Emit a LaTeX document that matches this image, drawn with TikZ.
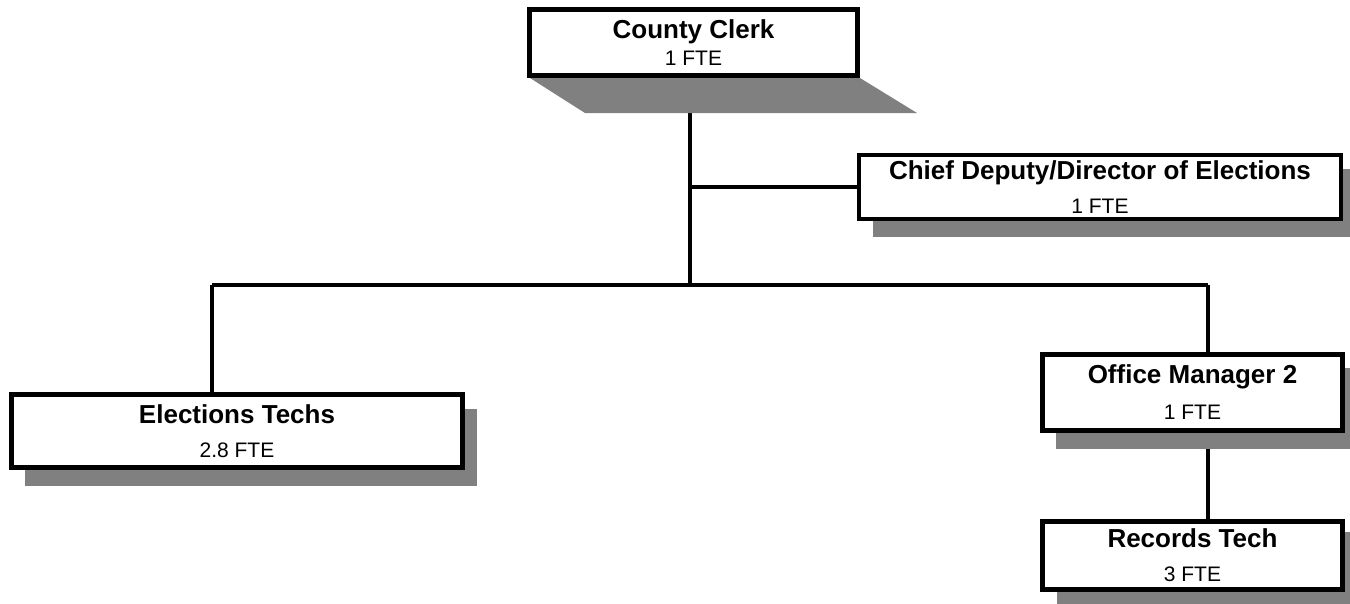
\documentclass[tikz,border=0pt]{standalone}
\usepackage{fontspec}
\setmainfont{Liberation Sans}
\usetikzlibrary{backgrounds}

\newcommand{\headline}[1]{{\fontsize{26}{34}\selectfont\bfseries #1}}

\tikzset{
  post/.style={draw, fill=white, line width=5pt, align=center, inner sep=0pt,
    font=\fontsize{21}{34}\selectfont},
  link/.style={line width=3.5pt},
  dropfill/.style={fill=black!50},
}

\begin{document}
\begin{tikzpicture}[x=1pt,y=-1pt]
  \useasboundingbox (0,0) rectangle (1350,603);

  % boxes
  \node[post, minimum width=328, minimum height=66] (clerk) at (693.5,42.5)
    {\headline{County Clerk}\\[-7pt] 1 FTE};
  \node[post, line width=4pt, minimum width=482, minimum height=64] (chief) at (1100,187)
    {\headline{Chief Deputy/Director of Elections}\\ 1 FTE};
  \node[post, minimum width=451, minimum height=73] (techs) at (237,431)
    {\headline{Elections Techs}\\ 2.8 FTE};
  \node[post, minimum width=300, minimum height=76] (manager) at (1192.5,392.5)
    {\headline{Office Manager 2}\\[2pt] 1 FTE};
  \node[post, minimum width=300, minimum height=68] (records) at (1192.5,555.5)
    {\headline{Records Tech}\\ 3 FTE};

  \begin{scope}[on background layer]
    % connectors
    \coordinate (hub) at (690,285);
    \coordinate (techs-drop) at (212,285);
    \coordinate (office-drop) at (1208,285);
    \draw[link] (clerk.south -| hub) -- (hub);
    \draw[link] (chief.west -| hub) -- (chief.west);
    \draw[link] (techs-drop) -- (office-drop);
    \draw[link] (techs-drop) -- (techs-drop |- techs.north);
    \draw[link] (office-drop) -- (office-drop |- manager.north);
    \draw[link] (manager.south -| office-drop) -- (records.north -| office-drop);

    % shadows
    \fill[dropfill] ([shift={(3,0)}]clerk.south west) -- (clerk.south east)
      -- ([shift={(57,35)}]clerk.south east) -- ([shift={(58,35)}]clerk.south west) -- cycle;
    \fill[dropfill] ([shift={(16,16)}]chief.south west) rectangle ([shift={(16,16)}]chief.north east);
    \fill[dropfill] ([shift={(16,16)}]techs.south west) rectangle ([shift={(12,17)}]techs.north east);
    \fill[dropfill] ([shift={(16,16)}]manager.south west) rectangle ([shift={(16,16)}]manager.north east);
    \fill[dropfill] ([shift={(17,13)}]records.south west) rectangle ([shift={(17,13)}]records.north east);
  \end{scope}
\end{tikzpicture}
\end{document}
